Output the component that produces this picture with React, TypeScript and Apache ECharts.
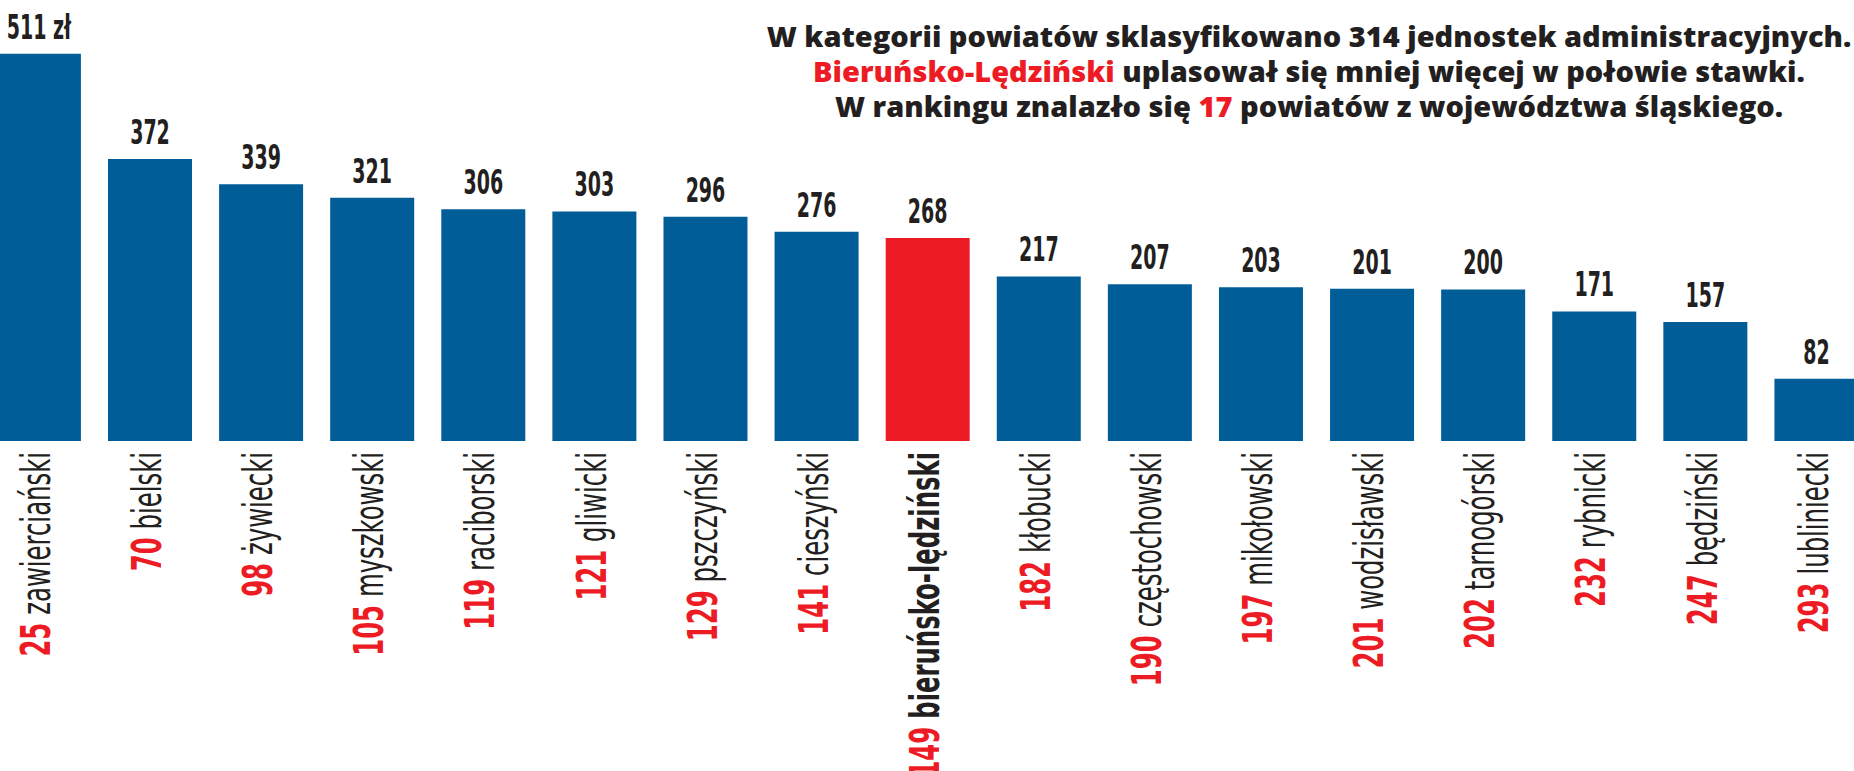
import React, { useEffect, useRef } from "react";
import * as echarts from "echarts";

const categories = [
  "zawierciański", "bielski", "żywiecki", "myszkowski", "raciborski", "gliwicki",
  "pszczyński", "cieszyński", "bieruńsko-lędziński", "kłobucki", "częstochowski",
  "mikołowski", "wodzisławski", "tarnogórski", "rybnicki", "będziński", "lubliniecki",
];
const ranks = [25, 70, 98, 105, 119, 121, 129, 141, 149, 182, 190, 197, 201, 202, 232, 247, 293];
const values = [511, 372, 339, 321, 306, 303, 296, 276, 268, 217, 207, 203, 201, 200, 171, 157, 82];
const highlighted = "bieruńsko-lędziński";
const unit = "zł";

const titleLines = [
  "{k|W kategorii powiatów sklasyfikowano 314 jednostek administracyjnych.}",
  "{r|Bieruńsko-Lędziński}{k| uplasował się mniej więcej w połowie stawki.}",
  "{k|W rankingu znalazło się }{r|17}{k| powiatów z województwa śląskiego.}",
];

const BLUE = "#005d98";
const RED = "#ed1c24";
const DARK = "#231f20";
const NARROW = "'DejaVu Sans Condensed', 'DejaVu Sans', sans-serif";
const TITLE_FONT = "'Open Sans', Lato, sans-serif";

export default function App() {
  const ref = useRef<HTMLDivElement>(null);
  useEffect(() => {
    if (!ref.current) return;
    const chart = echarts.init(ref.current, null, { renderer: "svg" });
    chart.setOption({
      animation: false,
      backgroundColor: "#ffffff",
      title: {
        text: titleLines.join("\n"),
        left: 1304,
        top: 13,
        textAlign: "center",
        textStyle: {
          rich: {
            k: { fontFamily: TITLE_FONT, fontWeight: 800, fontSize: 29, color: DARK, lineHeight: 35 },
            r: { fontFamily: TITLE_FONT, fontWeight: 800, fontSize: 29, color: RED, lineHeight: 35 },
          },
        },
      },
      grid: {
        left: -16.65,
        right: -18,
        top: 0,
        bottom: 330,
        containLabel: false,
        outerBoundsMode: "none",
      },
      xAxis: {
        type: "category",
        data: categories,
        axisLine: { show: false },
        axisTick: { show: false },
        axisLabel: { show: false },
      },
      yAxis: {
        type: "value",
        min: 0,
        max: 582,
        show: false,
        splitLine: { show: false },
      },
      series: [
        {
          type: "bar",
          barWidth: 84,
          data: values.map((v, i) => ({
            value: v,
            itemStyle: { color: categories[i] === highlighted ? RED : BLUE },
          })),
        },
        {
          type: "custom",
          clip: false,
          silent: true,
          data: values.map((v, i) => [i, v]),
          renderItem: (params: any, api: any) => {
            const i = api.value(0);
            const v = api.value(1);
            const top = api.coord([i, v]);
            const base = api.coord([i, 0]);
            const name = categories[i];
            const isHi = name === highlighted;
            return {
              type: "group",
              children: [
                {
                  type: "text",
                  x: top[0],
                  y: top[1] - 10,
                  scaleX: 0.64,
                  style: {
                    text: i === 0 ? `${v} ${unit}` : `${v}`,
                    fontFamily: NARROW,
                    fontWeight: "bold",
                    fontSize: 33,
                    fill: DARK,
                    align: "center",
                    verticalAlign: "bottom",
                  },
                },
                {
                  type: "text",
                  x: base[0] - 3,
                  y: base[1] + 11,
                  rotation: Math.PI / 2,
                  scaleX: 0.66,
                  style: {
                    text: `{n|${ranks[i]}}{${isHi ? "b" : "t"}|${name}}`,
                    align: "right",
                    verticalAlign: "middle",
                    rich: {
                      n: { fontFamily: NARROW, fontWeight: "bold", fontSize: 41, fill: RED, padding: [0, 12, 0, 0] },
                      t: { fontFamily: NARROW, fontWeight: "normal", fontSize: 41, fill: DARK },
                      b: { fontFamily: NARROW, fontWeight: "bold", fontSize: 41, fill: DARK },
                    },
                  },
                },
              ],
            };
          },
        },
      ],
    });
    return () => chart.dispose();
  }, []);
  return (
    <div
      ref={ref}
      style={{ position: "absolute", left: 0, top: 0, width: 1854, height: 771, background: "#fff" }}
    />
  );
}
